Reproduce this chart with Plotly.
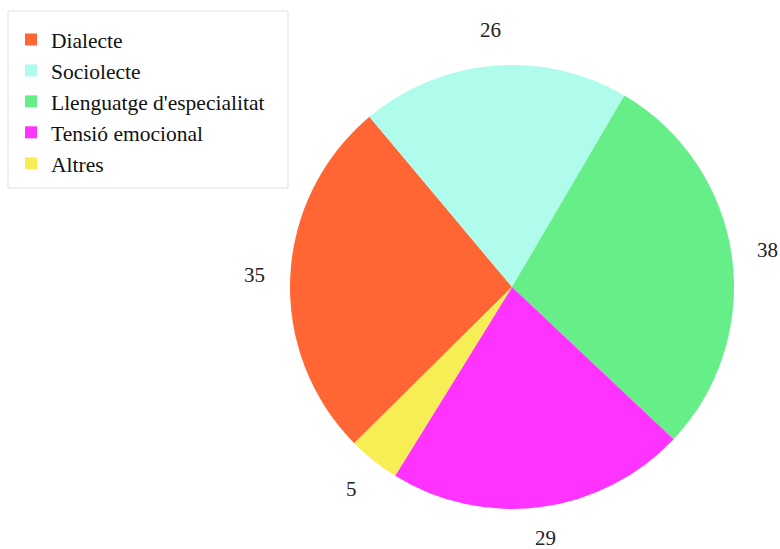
import math
import plotly.graph_objects as go

labels = ["Dialecte", "Sociolecte", "Llenguatge d'especialitat", "Tensió emocional", "Altres"]
values = [35, 26, 38, 29, 5]
colors = ["#FF6633", "#B0FCEC", "#66EE88", "#FF33FF", "#F7EE55"]

W, H = 780, 549
cx, cy, r = 512, 287, 222
rotation = 225.3
label_r = 258
SERIF = "Liberation Serif"

fig = go.Figure(go.Pie(
    labels=labels, values=values, sort=False, direction="clockwise",
    rotation=rotation, textinfo="none", hoverinfo="label+value",
    marker=dict(colors=colors, line=dict(width=0)),
    domain=dict(x=[(cx - r) / W, (cx + r) / W], y=[1 - (cy + r) / H, 1 - (cy - r) / H]),
))

total = sum(values)
ang = rotation
annotations = []
for v in values:
    span = v / total * 360
    mid = math.radians(ang + span / 2)
    ang += span
    px = cx + label_r * math.sin(mid)
    py = min(cy - label_r * math.cos(mid), H - 11)
    annotations.append(dict(x=px / W, y=1 - py / H, xref="paper", yref="paper",
                            text=str(v), showarrow=False, xanchor="center", yanchor="middle",
                            font=dict(family=SERIF, size=21, color="#222")))

fig.update_layout(
    width=W, height=H, margin=dict(l=0, r=0, t=0, b=0),
    paper_bgcolor="white", plot_bgcolor="white",
    font=dict(family=SERIF, size=21, color="#111"),
    annotations=annotations,
    shapes=[dict(type="rect", xref="paper", yref="paper",
                 x0=8 / W, x1=288 / W, y0=1 - 188 / H, y1=1 - 11 / H,
                 line=dict(color="#e0e0e0", width=1), fillcolor="rgba(0,0,0,0)", layer="below")],
    legend=dict(x=11 / W, y=1 - 19 / H, xanchor="left", yanchor="top",
                bgcolor="rgba(0,0,0,0)", borderwidth=0,
                font=dict(family=SERIF, size=21.5, color="#111"),
                tracegroupgap=0),
    showlegend=True,
)

fig.write_html("out.html")
